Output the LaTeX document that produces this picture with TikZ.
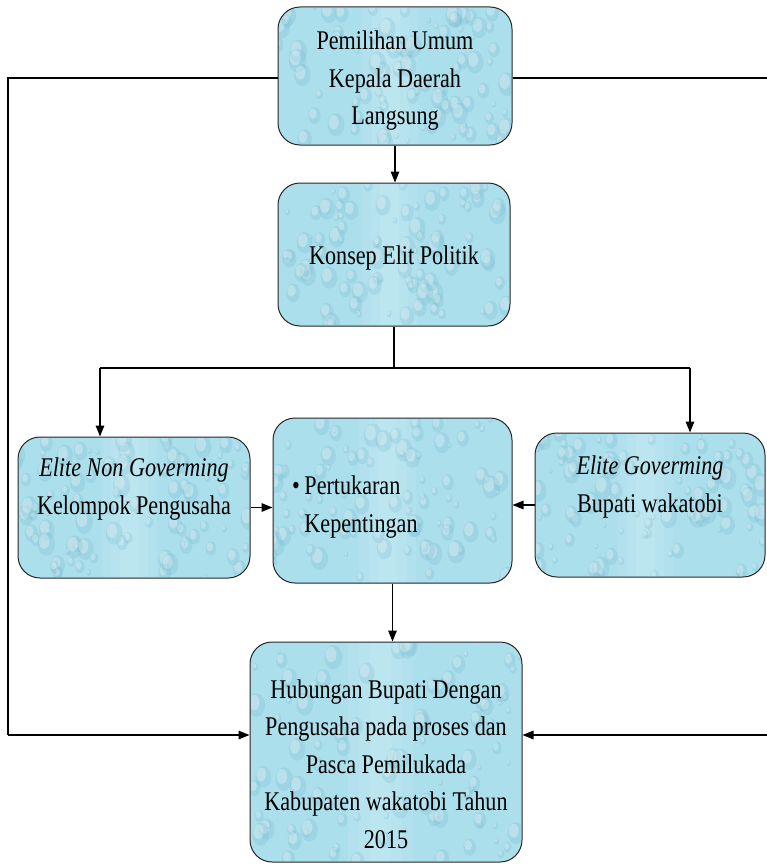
\documentclass[tikz,border=0pt]{standalone}
\usepackage{fontspec}
\setmainfont{Liberation Serif}[FakeStretch=0.82]
\usetikzlibrary{arrows.meta,calc}
\definecolor{water}{RGB}{172,223,236}
\definecolor{waterdark}{RGB}{112,182,204}
\definecolor{waterlight}{RGB}{214,240,247}
\begin{document}
\begin{tikzpicture}[x=1pt,y=-1pt,
  box/.style={draw=black!85, line width=1pt, rounded corners=22pt, fill=water, inner sep=0pt},
  txt/.style={font=\fontsize{27}{37.5}\selectfont, align=center, inner sep=0pt, text=black},
  conn/.style={line width=1.5pt, black},
  arr/.style={conn, -{Triangle[length=11pt,width=8.5pt]}}]
\useasboundingbox (0,0) rectangle (767,867);

% boxes
\node[box, minimum width=234, minimum height=138] (b1) at (395,76) {};
\node[box, minimum width=232, minimum height=143] (b2) at (394,254.5) {};
\node[box, minimum width=232, minimum height=141] (ng) at (134,507.5) {};
\node[box, minimum width=239, minimum height=165] (pk) at (392.5,500.5) {};
\node[box, minimum width=230, minimum height=144] (g) at (650,505) {};
\node[box, minimum width=272, minimum height=220] (b5) at (386,752) {};

% water droplet texture
\foreach \nm/\w/\h/\s in {b1/234/138/3, b2/232/143/5, ng/232/141/7, pk/239/165/11, g/230/144/13, b5/272/220/17}{
  \begin{scope}
    \clip[rounded corners=21pt] ($(\nm.south west)+(1.5,-1.5)$) rectangle ($(\nm.north east)+(-1.5,1.5)$);
    \foreach \f in {0.04,0.08,0.12}{
      \fill[waterlight, opacity=.16] ($(\nm.north)+(-\w*\f-\w*0.02,0)$) rectangle ($(\nm.south)+(\w*\f-\w*0.02,0)$);
    }
    \pgfmathsetseed{\s}
    \foreach \k in {1,...,90}{
      \pgfmathsetmacro\px{\w*rnd}
      \pgfmathsetmacro\py{\h*rnd}
      \pgfmathsetmacro\rr{2+7*rnd}
      \fill[waterdark, opacity=.22] ($(\nm.north west)+(\px,\py)$) ellipse ({\rr} and {1.35*\rr});
      \fill[white, opacity=.28] ($(\nm.north west)+(\px-0.25*\rr,\py-0.3*\rr)$) ellipse ({0.6*\rr} and {0.85*\rr});
    }
  \end{scope}
}

% texts
\node[txt] (b1t) at (395,81) {Pemilihan Umum\\Kepala Daerah\\Langsung};
\node[txt] (b2t) at (394,258) {Konsep Elit Politik};
\node[txt] (ngt) at (134,489) {\textit{Elite Non Goverming}\\Kelompok Pengusaha};
\node[txt, anchor=west, align=left] (pkt) at (292,507) {\textbullet\,Pertukaran\\\phantom{\textbullet\,}Kepentingan};
\node[txt] (gt) at (650,487) {\textit{Elite Goverming}\\Bupati wakatobi};
\node[txt] (b5t) at (386,764) {Hubungan Bupati Dengan\\Pengusaha pada proses dan\\Pasca Pemilukada\\Kabupaten wakatobi Tahun\\2015};

% junction coordinates
\coordinate (jl) at (100,368);
\coordinate (jr) at (690,368);
\coordinate (tl) at (8,78);
\coordinate (tr) at (767,78);
\coordinate (bl) at (8,735);
\coordinate (br) at (767,735);

% connectors
\draw[arr] (b1.south) -- (b1.south |- b2.north);
\draw[conn] (b2.south) -- (b2.south |- jl);
\draw[conn] (jl) -- (jr);
\draw[arr] (jl) -- (jl |- ng.north);
\draw[arr] (jr) -- (jr |- g.north);
\draw[arr] (ng.east) -- (ng.east -| pk.west);
\draw[arr] (g.west) -- (g.west -| pk.east);
\draw[arr] (pk.south) -- (pk.south |- b5.north);
\draw[conn] (b1.west |- tl) -- (tl) -- (bl);
\draw[arr] (bl) -- (bl -| b5.west);
\draw[conn] (b1.east |- tr) -- (tr);
\draw[arr] (br) -- (br -| b5.east);
\end{tikzpicture}
\end{document}
